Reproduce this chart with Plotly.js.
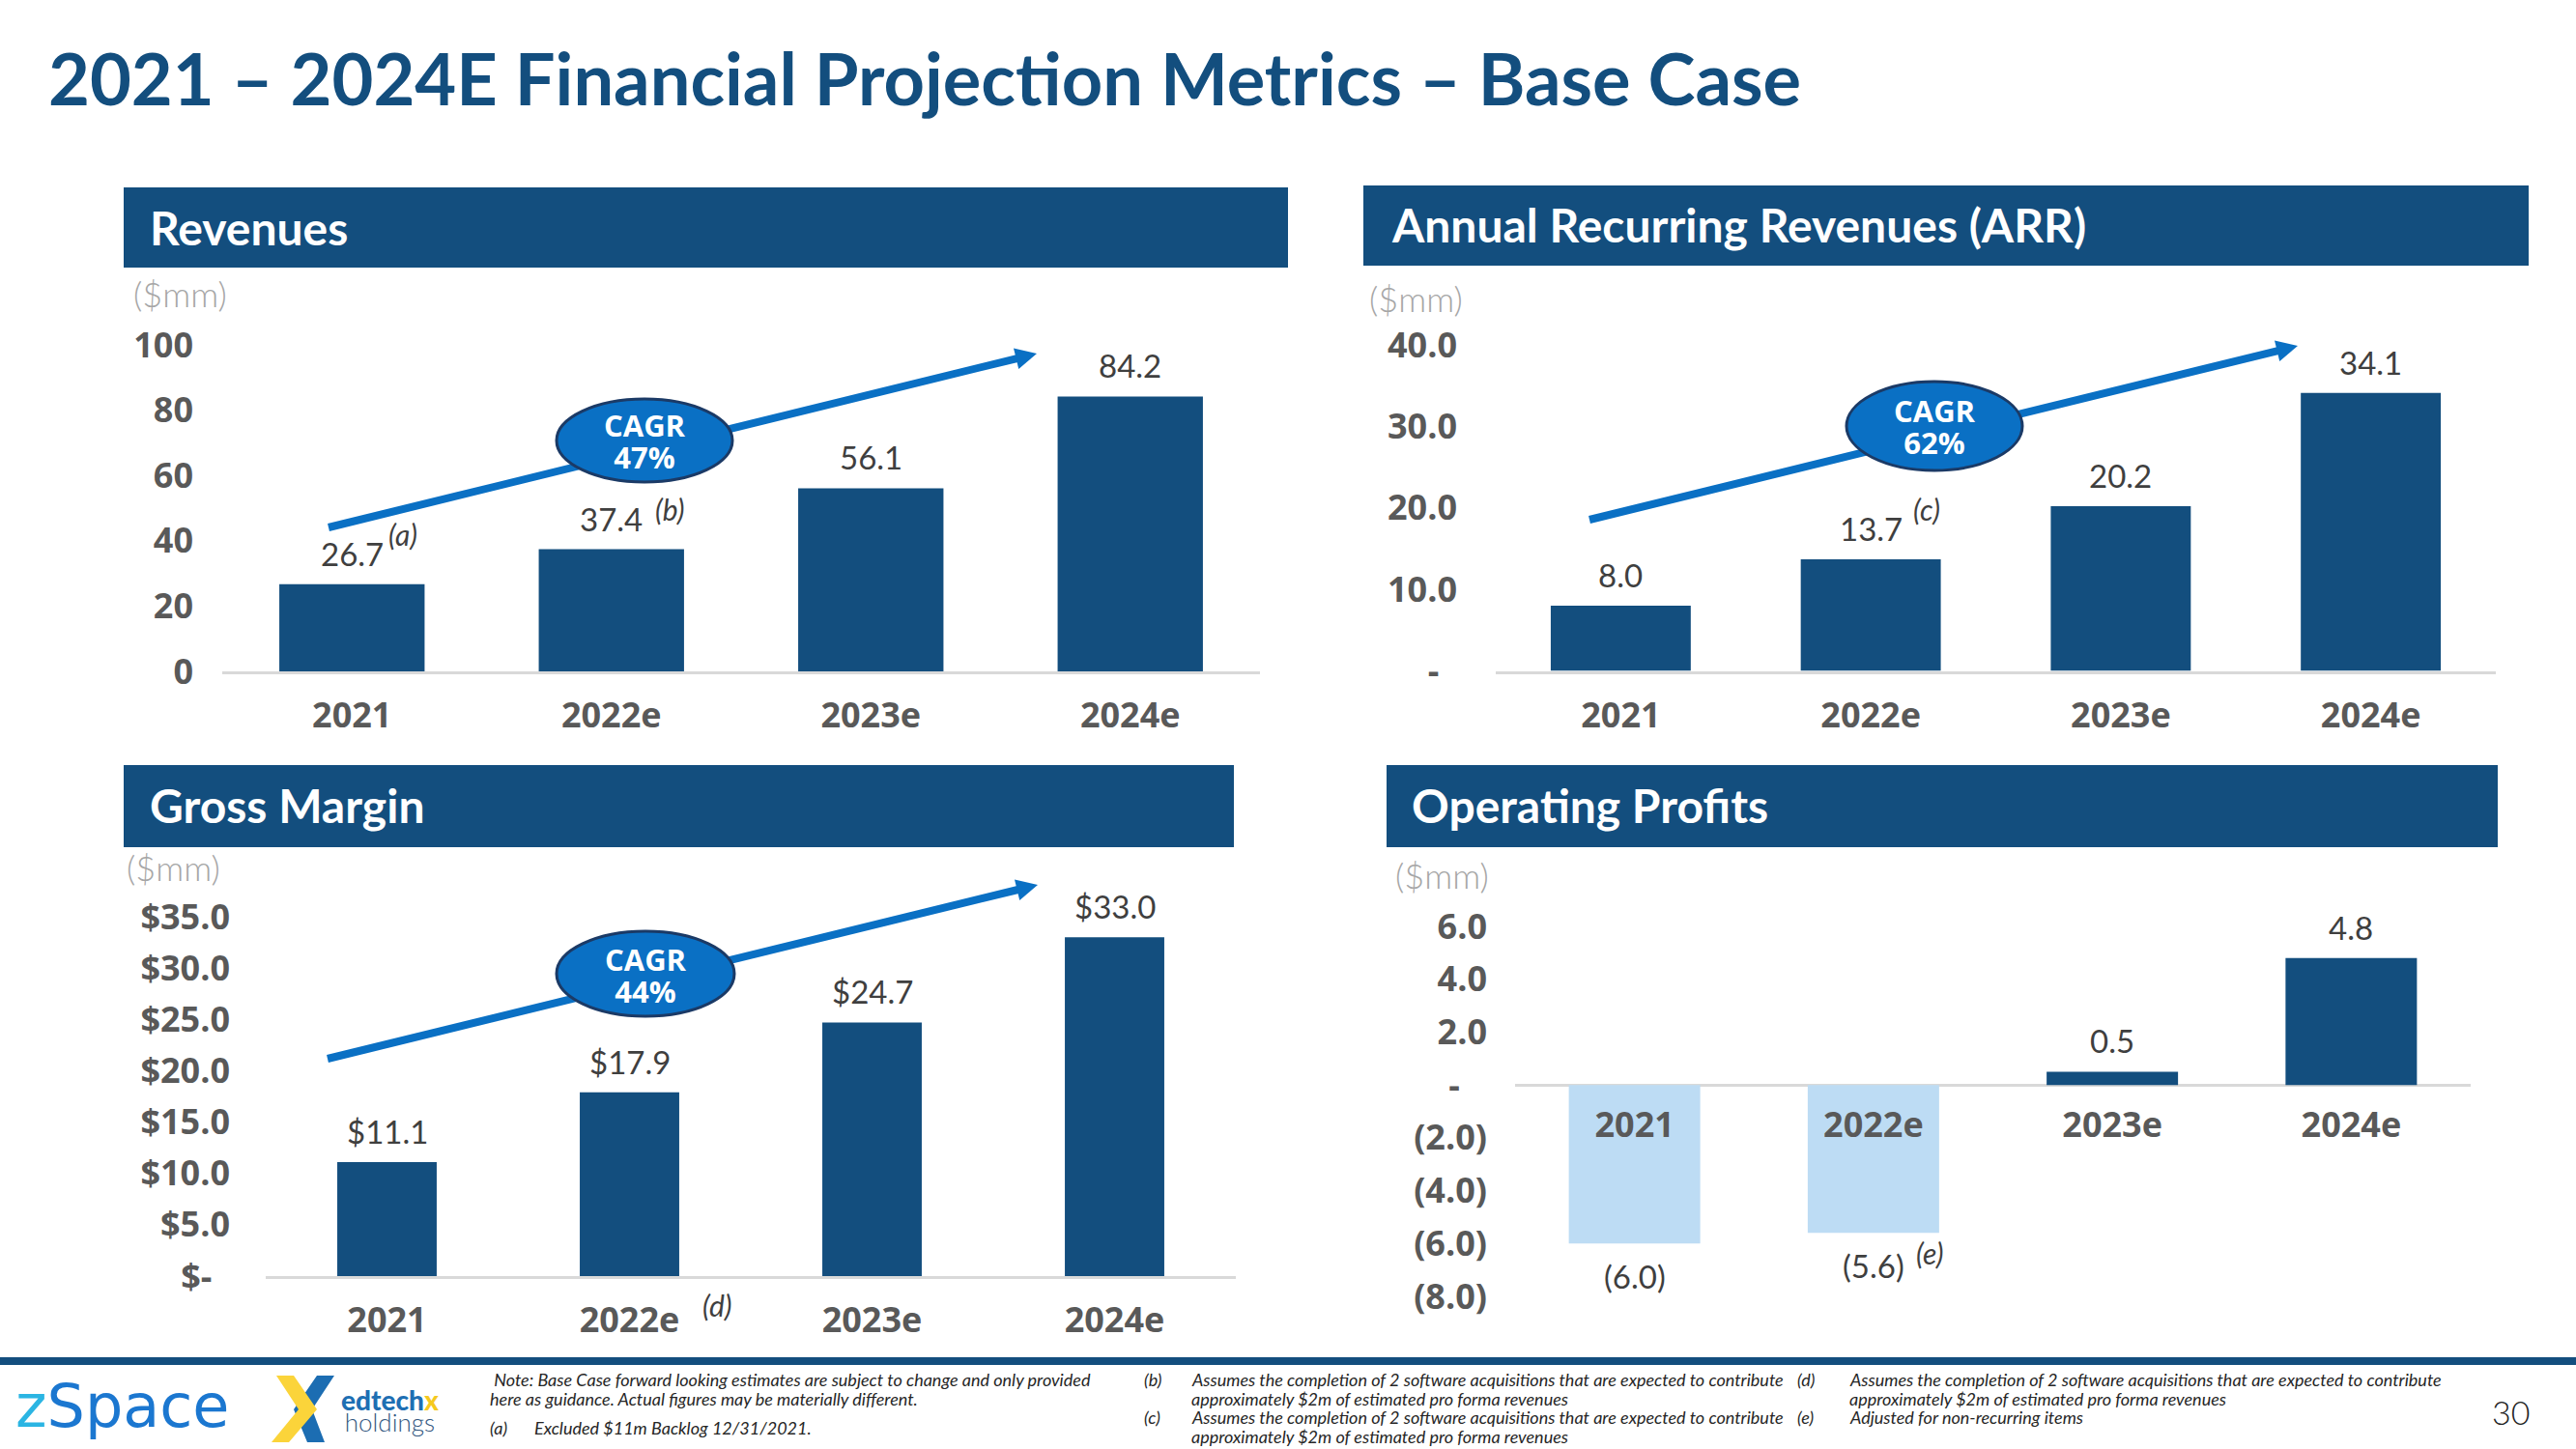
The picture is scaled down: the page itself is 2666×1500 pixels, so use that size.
<!DOCTYPE html>
<html><head><meta charset="utf-8">
<script src="https://cdn.plot.ly/plotly-3.0.1.min.js"></script>
<style>html,body{margin:0;padding:0;background:#fff;} #chart{width:2666px;height:1500px;}</style>
</head><body><div id="chart"></div>
<script>
// ---------------- DATA ----------------
const years = ['2021', '2022e', '2023e', '2024e'];
const revenues = [26.7, 37.4, 56.1, 84.2];
const arrValues = [8.0, 13.7, 20.2, 34.1];
const grossMargin = [11.1, 17.9, 24.7, 33.0];
const operatingProfits = [-6.0, -5.6, 0.5, 4.8];

const revTickVals = [0, 20, 40, 60, 80, 100];
const revTickText = ['0', '20', '40', '60', '80', '100'];
const arrTickVals = [0, 10, 20, 30, 40];
const arrTickText = ['-\u00a0\u00a0', '10.0', '20.0', '30.0', '40.0'];
const gmTickVals = [0, 5, 10, 15, 20, 25, 30, 35];
const gmTickText = ['$-\u00a0\u00a0', '$5.0', '$10.0', '$15.0', '$20.0', '$25.0', '$30.0', '$35.0'];
const opTickVals = [-8, -6, -4, -2, 0, 2, 4, 6];
const opTickText = ['(8.0)', '(6.0)', '(4.0)', '(2.0)', '-\u00a0\u00a0\u00a0', '2.0', '4.0', '6.0'];

const cagrLabels = ['47%', '62%', '44%'];
const panelTitles = ['Revenues', 'Annual Recurring Revenues (ARR)', 'Gross Margin', 'Operating Profits'];
const unitLabel = '($mm)';
const mainTitle = '2021 \u2013 2024E Financial Projection Metrics \u2013 Base Case';
const footnoteNote = [' Note: Base Case forward looking estimates are subject to change and only provided',
                      'here as guidance. Actual figures may be materially different.'];
const footnoteA = ['(a)', 'Excluded $11m Backlog 12/31/2021.'];
const footnoteB = ['(b)', 'Assumes the completion of 2 software acquisitions that are expected to contribute', 'approximately $2m of estimated pro forma revenues'];
const footnoteC = ['(c)', 'Assumes the completion of 2 software acquisitions that are expected to contribute', 'approximately $2m of estimated pro forma revenues'];
const footnoteD = ['(d)', 'Assumes the completion of 2 software acquisitions that are expected to contribute', 'approximately $2m of estimated pro forma revenues'];
const footnoteE = ['(e)', 'Adjusted for non-recurring items'];
const pageNumber = '30';

// ---------------- STYLE / GEOMETRY ----------------
const W = 2666, H = 1500;
const PX = x => x / W;
const PY = y => 1 - y / H;
const NAVY = '#134e7e';
const LIGHT = '#bddcf4';
const BLUE = '#0a70c4';
const TICK = '#595959';
const VAL = '#3f3f3f';

const fmtNum = v => v < 0 ? '(' + Math.abs(v).toFixed(1) + ')' : v.toFixed(1);
const fmtDollar = v => '$' + v.toFixed(1);

const panels = [
  {xa: 'x', ya: 'y', values: revenues, tv: revTickVals, tt: revTickText, fmt: fmtNum,
   x0: 230, x1: 1304, yB: 695, yT: 357, range: [0, 100], header: [128, 194, 1333, 277], hText: [153, 235],
   unit: [136, 304], standoff: 29, width: 0.56,
   marks: [{i: 0, t: '(a)', xs: 36, ys: 52}, {i: 1, t: '(b)', xs: 43, ys: 42}]},
  {xa: 'x2', ya: 'y2', values: arrValues, tv: arrTickVals, tt: arrTickText, fmt: fmtNum,
   x0: 1548, x1: 2583, yB: 694.5, yT: 357, range: [0, 40], header: [1411, 192, 2617, 275], hText: [1438, 233],
   unit: [1415, 309], standoff: 39, width: 0.56,
   marks: [{i: 1, t: '(c)', xs: 42, ys: 52}]},
  {xa: 'x3', ya: 'y3', values: grossMargin, tv: gmTickVals, tt: gmTickText, fmt: fmtDollar,
   x0: 275, x1: 1279, yB: 1321, yT: 949, range: [0, 35], header: [128, 792, 1277, 877], hText: [153, 833],
   unit: [129, 898], standoff: 36, width: 0.41,
   marks: [{i: 1, t: '(d)', xs: 73, ys: -30, atZero: true}]},
  {xa: 'x4', ya: 'y4', values: operatingProfits, tv: opTickVals, tt: opTickText, fmt: fmtNum,
   x0: 1568, x1: 2557, yB: 1342, yT: 959, range: [-8, 6], header: [1435, 792, 2585, 877], hText: [1459, 833],
   unit: [1442, 906], standoff: 28, width: 0.55, free: true,
   marks: [{i: 1, t: '(e)', xs: 42, ys: -21}]}
];

const arrows = [
  {s: [340, 546], t: [1073, 366], c: [667, 456], rx: 91, ry: 43},
  {s: [1645, 538], t: [2378, 358], c: [2002, 441], rx: 91, ry: 46},
  {s: [339, 1096], t: [1074, 916], c: [668, 1008], rx: 92, ry: 44}
];

const data = [];
const layout = {
  width: W, height: H, margin: {l: 0, r: 0, t: 0, b: 0},
  paper_bgcolor: '#ffffff', plot_bgcolor: 'rgba(0,0,0,0)', showlegend: false,
  font: {family: 'Lato, sans-serif'},
  shapes: [], annotations: []
};

panels.forEach((p, k) => {
  const sfx = k === 0 ? '' : String(k + 1);
  data.push({
    type: 'bar', x: years, y: p.values, xaxis: p.xa, yaxis: p.ya, width: p.width,
    marker: {color: p.values.map(v => v < 0 ? LIGHT : NAVY), line: {width: 0}},
    hoverinfo: 'skip', cliponaxis: false
  });
  const d0 = PY(p.yB), d1 = PY(p.yT);
  const xaxis = {
    domain: [PX(p.x0), PX(p.x1)], anchor: 'y' + sfx, type: 'category',
    categoryorder: 'array', categoryarray: years, range: [-0.5, years.length - 0.5], autorange: false,
    showgrid: false, zeroline: false, showline: !p.free, linecolor: '#d9d9d9', linewidth: 3,
    ticks: '', ticklabelstandoff: p.free ? 17 : 12,
    tickfont: {family: 'Open Sans', size: 36, color: TICK, weight: 700}, fixedrange: true
  };
  if (p.free) {
    xaxis.anchor = 'free';
    xaxis.position = d0 + (0 - p.range[0]) / (p.range[1] - p.range[0]) * (d1 - d0);
  }
  layout['xaxis' + sfx] = xaxis;
  layout['yaxis' + sfx] = {
    domain: [d0, d1], anchor: 'x' + sfx, range: p.range, autorange: false,
    showgrid: false, zeroline: !!p.free, zerolinecolor: '#d9d9d9', zerolinewidth: 3, showline: false,
    tickmode: 'array', tickvals: p.tv, ticktext: p.tt, ticks: '', ticklabelstandoff: p.standoff,
    tickfont: {family: 'Open Sans', size: 36, color: TICK, weight: 700}, fixedrange: true
  };
  // header bar
  layout.shapes.push({type: 'rect', xref: 'paper', yref: 'paper', layer: 'below',
    x0: PX(p.header[0]), x1: PX(p.header[2]), y0: PY(p.header[3]), y1: PY(p.header[1]),
    fillcolor: NAVY, line: {width: 0}});
  layout.annotations.push({xref: 'paper', yref: 'paper', x: PX(p.hText[0]), y: PY(p.hText[1]),
    xanchor: 'left', yanchor: 'middle', showarrow: false, text: panelTitles[k],
    font: {family: 'Lato', size: 48, color: '#ffffff', weight: 700}});
  layout.annotations.push({xref: 'paper', yref: 'paper', x: PX(p.unit[0]), y: PY(p.unit[1]),
    xanchor: 'left', yanchor: 'middle', showarrow: false, text: unitLabel,
    font: {family: 'Lato', size: 36, color: '#a6a6a6', weight: 300}});
  // value labels (x given as category index)
  p.values.forEach((v, i) => {
    layout.annotations.push({xref: p.xa, yref: p.ya, x: i, y: v, showarrow: false,
      text: p.fmt(v), xanchor: 'center', yanchor: v < 0 ? 'top' : 'bottom', yshift: v < 0 ? -12 : 10,
      font: {family: 'Lato', size: 33, color: VAL, weight: 400}});
  });
  p.marks.forEach(m => {
    layout.annotations.push({xref: p.xa, yref: p.ya, x: m.i, y: m.atZero ? 0 : p.values[m.i],
      showarrow: false, text: m.t, xanchor: 'left', yanchor: 'middle', xshift: m.xs, yshift: m.ys,
      font: {family: 'Lato', size: 30, color: VAL, style: 'italic'}});
  });
});

// CAGR arrows + ellipses
arrows.forEach((a, k) => {
  const dx = a.t[0] - a.s[0], dy = a.t[1] - a.s[1];
  const len = Math.hypot(dx, dy), ux = dx / len, uy = dy / len, nx = -uy, ny = ux;
  const L = 22, Wd = 11;
  const bx = a.t[0] - L * ux, by = a.t[1] - L * uy;
  layout.shapes.push({type: 'line', xref: 'paper', yref: 'paper', layer: 'above',
    x0: PX(a.s[0]), y0: PY(a.s[1]), x1: PX(bx + 2 * ux), y1: PY(by + 2 * uy), line: {color: BLUE, width: 8}});
  layout.shapes.push({type: 'path', xref: 'paper', yref: 'paper', layer: 'above',
    path: `M${PX(a.t[0])},${PY(a.t[1])} L${PX(bx + Wd * nx)},${PY(by + Wd * ny)} L${PX(bx - Wd * nx)},${PY(by - Wd * ny)} Z`,
    fillcolor: BLUE, line: {width: 0}});
  layout.shapes.push({type: 'circle', xref: 'paper', yref: 'paper', layer: 'above',
    x0: PX(a.c[0] - a.rx), x1: PX(a.c[0] + a.rx), y0: PY(a.c[1] + a.ry), y1: PY(a.c[1] - a.ry),
    fillcolor: BLUE, line: {color: '#1b3a66', width: 3}});
  layout.annotations.push({xref: 'paper', yref: 'paper', x: PX(a.c[0]), y: PY(a.c[1] + 1), showarrow: false,
    text: '<span style="font-size:31px">CAGR</span><br><span style="font-size:31px">' + cagrLabels[k] + '</span>',
    align: 'center', xanchor: 'center', yanchor: 'middle',
    font: {family: 'Open Sans', size: 25, color: '#fff', weight: 700}});
});

// main title
layout.annotations.push({xref: 'paper', yref: 'paper', x: PX(48), y: PY(80), xanchor: 'left', yanchor: 'middle',
  showarrow: false, text: mainTitle, font: {family: 'Lato', size: 74, color: NAVY, weight: 700}});

// footer line
layout.shapes.push({type: 'rect', xref: 'paper', yref: 'paper', x0: 0, x1: 1, y0: PY(1413), y1: PY(1405),
  fillcolor: NAVY, line: {width: 0}});

// logos
layout.annotations.push({xref: 'paper', yref: 'paper', x: PX(14), y: PY(1455), xanchor: 'left', yanchor: 'middle',
  showarrow: false, text: '<span style="color:#2bb5e3">z</span>Space',
  font: {family: 'DejaVu Sans', size: 62, color: '#1b77d0'}});
const poly = pts => 'M' + pts.map(q => PX(q[0]) + ',' + PY(q[1])).join(' L') + ' Z';
layout.shapes.push({type: 'path', xref: 'paper', yref: 'paper', path: poly([[328,1424],[346,1424],[323,1459],[336,1493],[318,1493],[304,1459]]),
  fillcolor: '#1c6db2', line: {width: 0}});
layout.shapes.push({type: 'path', xref: 'paper', yref: 'paper', path: poly([[286,1424],[304,1424],[328,1459],[299,1493],[281,1493],[309,1459]]),
  fillcolor: '#fbd43a', line: {width: 0}});
layout.annotations.push({xref: 'paper', yref: 'paper', x: PX(403), y: PY(1460), xanchor: 'center', yanchor: 'middle',
  showarrow: false, align: 'center',
  text: '<span style="font-size:28px;font-weight:900">edtech<span style="color:#f5c91e">x</span></span><br>' +
        '<span style="font-size:26px;font-weight:300;color:#33577f">holdings</span>',
  font: {family: 'Lato', size: 17, color: '#1e6fb3'}});

// footnotes
const fn = (x, y, t) => layout.annotations.push({xref: 'paper', yref: 'paper', x: PX(x), y: PY(y),
  xanchor: 'left', yanchor: 'middle', showarrow: false, text: t,
  font: {family: 'Lato', size: 18, color: '#262626', style: 'italic'}});
fn(505, 1428, footnoteNote[0]);
fn(505, 1448, footnoteNote[1]);
fn(505, 1478, footnoteA[0]); fn(551, 1478, footnoteA[1]);
fn(1182, 1428, footnoteB[0]); fn(1231, 1428, footnoteB[1]); fn(1231, 1448, footnoteB[2]);
fn(1182, 1467, footnoteC[0]); fn(1231, 1467, footnoteC[1]); fn(1231, 1487, footnoteC[2]);
fn(1858, 1428, footnoteD[0]); fn(1912, 1428, footnoteD[1]); fn(1912, 1448, footnoteD[2]);
fn(1858, 1467, footnoteE[0]); fn(1912, 1467, footnoteE[1]);
layout.annotations.push({xref: 'paper', yref: 'paper', x: PX(2598), y: PY(1461), xanchor: 'center', yanchor: 'middle',
  showarrow: false, text: pageNumber, font: {family: 'Lato', size: 34, color: '#222', weight: 300}});

Plotly.newPlot('chart', data, layout, {staticPlot: true, displayModeBar: false});
</script>
</body></html>
